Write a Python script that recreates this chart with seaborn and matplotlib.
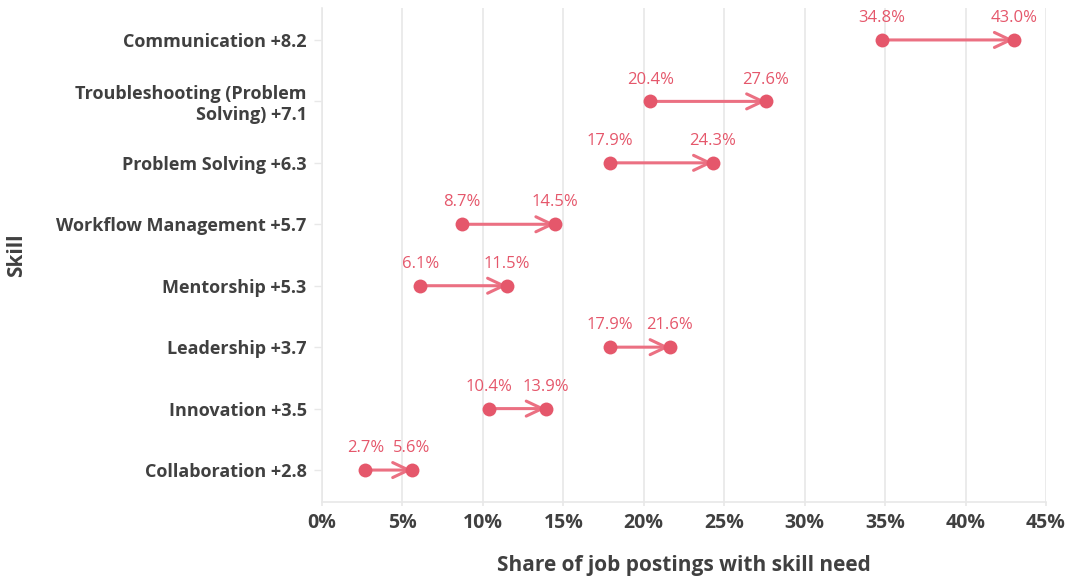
import matplotlib
matplotlib.use("Agg")
import matplotlib.pyplot as plt
import seaborn as sns
import pandas as pd

skills = ["Communication +8.2", "Troubleshooting (Problem\nSolving) +7.1", "Problem Solving +6.3",
          "Workflow Management +5.7", "Mentorship +5.3", "Leadership +3.7",
          "Innovation +3.5", "Collaboration +2.8"]
start = [34.8, 20.4, 17.9, 8.7, 6.1, 17.9, 10.4, 2.7]
end = [43.0, 27.6, 24.3, 14.5, 11.5, 21.6, 13.9, 5.6]
xticks = [0, 5, 10, 15, 20, 25, 30, 35, 40, 45]

sns.set_theme(style="whitegrid")
plt.rcParams['font.family'] = ['Open Sans', 'DejaVu Sans']

RED = "#E5576B"
LINE = "#EB7082"
TXT = "#404040"
GRID = "#E8E8E8"

df = pd.DataFrame({"skill": skills * 2, "value": start + end})

fig = plt.figure(figsize=(10.76, 5.76), dpi=100)
ax = fig.add_axes([322/1076, 74/576, (1046-322)/1076, (502-8)/576])

ypos = list(range(len(skills)))
for i in ypos:
    ax.annotate("", xy=(end[i], i), xytext=(start[i], i),
                arrowprops=dict(arrowstyle="->,head_length=0.95,head_width=0.45", color=LINE,
                                lw=2.2, shrinkA=0, shrinkB=0), zorder=2)

sns.scatterplot(data=df, x="value", y="skill", color=RED, s=100, edgecolor=RED,
                linewidth=0, ax=ax, zorder=3)

for i in ypos:
    ax.annotate(f"{start[i]:.1f}%", (start[i], i), xytext=(0, 10), textcoords="offset points",
                ha="center", va="bottom", color=RED, fontsize=12)
    ax.annotate(f"{end[i]:.1f}%", (end[i], i), xytext=(0, 10), textcoords="offset points",
                ha="center", va="bottom", color=RED, fontsize=12)

ax.set_xlim(0, 45)
ax.set_ylim(len(skills) - 0.48, -0.52)
ax.set_xticks(xticks)
ax.set_xticklabels([f"{t}%" for t in xticks])
ax.set_yticks(ypos)
ax.set_yticklabels(skills)

for lab in ax.get_yticklabels():
    lab.set_fontweight("bold")
ax.tick_params(axis="y", labelsize=13, labelcolor=TXT, length=6, color=GRID, width=1, pad=5, left=True)
ax.tick_params(axis="x", labelsize=14, labelcolor=TXT, length=3, color=GRID, width=1.2, pad=5, bottom=True)
for lab in ax.get_xticklabels():
    lab.set_fontweight("bold")

ax.grid(axis="x", color=GRID, lw=1.2)
ax.grid(axis="y", visible=False)
for s in ["top", "right"]:
    ax.spines[s].set_visible(False)
ax.spines["bottom"].set_color(GRID)
ax.spines["bottom"].set_linewidth(1.2)
ax.spines["left"].set_color(GRID)
ax.spines["left"].set_linewidth(1.2)

ax.set_xlabel("Share of job postings with skill need", fontsize=15, color=TXT,
              fontweight="bold", labelpad=16)
ax.set_ylabel("Skill", fontsize=15, color=TXT, fontweight="bold")
ax.yaxis.set_label_coords((27 - 322) / 724, 0.5)

fig.savefig("out.png", dpi=100, facecolor="white")
